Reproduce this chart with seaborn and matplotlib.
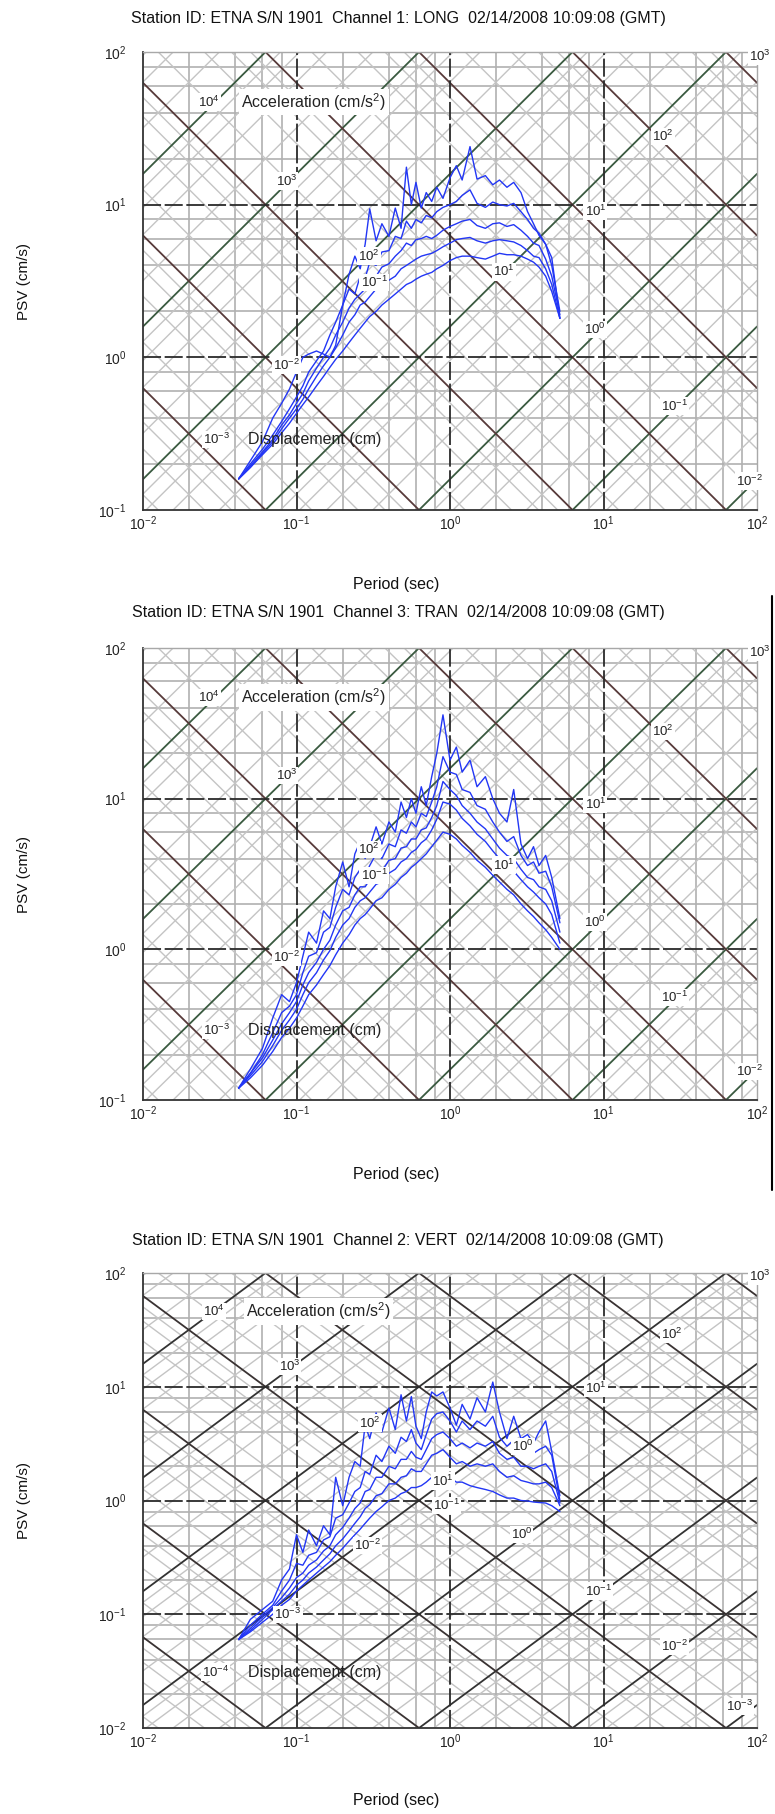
import numpy as np
import pandas as pd
import matplotlib
matplotlib.use("Agg")
import matplotlib.pyplot as plt
from matplotlib.lines import Line2D
import seaborn as sns

# ---------------- data ----------------
period = [0.042, 0.05, 0.06, 0.07, 0.08, 0.09, 0.10, 0.11, 0.12, 0.135, 0.15, 0.165, 0.18,
          0.2, 0.22, 0.24, 0.26, 0.28, 0.3, 0.33, 0.36, 0.4, 0.44, 0.48, 0.52, 0.56, 0.6,
          0.65, 0.7, 0.76, 0.82, 0.9, 1.0, 1.1, 1.2, 1.35, 1.5, 1.7, 1.9, 2.1, 2.35, 2.6,
          2.9, 3.2, 3.5, 3.8, 4.2, 4.6, 5.2]

long_c1 = [0.16, 0.21, 0.28, 0.40, 0.50, 0.62, 0.80, 1.0, 1.05, 1.1, 1.05, 1.0, 1.2, 2.2, 3.5, 4.6, 3.8, 5.5, 9.4,
           5.8, 7.5, 6.2, 9.5, 7.0, 17.6, 10.0, 14.0, 9.5, 12.0, 10.5, 13.0, 11.0, 15.0, 18.0, 14.5, 24.0,
           14.7, 15.5, 13.5, 14.5, 13.0, 14.0, 12.0, 9.0, 7.5, 6.3, 5.5, 4.5, 1.8]
long_c2 = [0.16, 0.2, 0.25, 0.31, 0.38, 0.46, 0.55, 0.65, 0.8, 0.95, 1.1, 1.4, 1.7, 2.2, 2.8, 2.6, 3.4, 3.3, 4.2,
           4.0, 4.9, 5.0, 6.2, 6.0, 7.8, 7.0, 8.0, 7.6, 8.5, 8.2, 9.0, 9.6, 10.0, 10.5, 11.5, 12.5, 10.2, 9.6,
           10.4, 10.0, 9.8, 10.2, 9.0, 8.0, 7.0, 6.5, 5.5, 4.0, 2.0]
long_c3 = [0.16, 0.195, 0.24, 0.29, 0.36, 0.42, 0.50, 0.58, 0.70, 0.85, 1.0, 1.15, 1.4, 1.7, 2.1, 2.4, 2.6, 2.8,
           3.2, 3.4, 3.9, 4.1, 4.6, 5.0, 5.6, 5.4, 5.9, 6.0, 6.2, 6.0, 6.3, 6.8, 7.2, 7.5, 7.8, 8.0, 7.3, 7.0,
           7.5, 7.6, 7.2, 7.4, 6.8, 6.2, 5.6, 5.4, 4.4, 3.4, 1.9]
long_c4 = [0.16, 0.19, 0.235, 0.28, 0.34, 0.40, 0.46, 0.53, 0.62, 0.75, 0.88, 1.0, 1.15, 1.4, 1.7, 1.9, 2.2, 2.3,
           2.5, 2.8, 2.9, 3.2, 3.4, 3.8, 4.0, 4.2, 4.4, 4.6, 4.7, 4.8, 5.0, 5.3, 5.6, 5.9, 6.0, 6.1, 5.8, 5.6,
           5.8, 5.9, 5.8, 5.7, 5.4, 5.0, 4.6, 4.5, 3.8, 3.0, 1.8]
long_c5 = [0.16, 0.19, 0.23, 0.27, 0.32, 0.37, 0.43, 0.49, 0.55, 0.65, 0.75, 0.86, 0.97, 1.1, 1.25, 1.4, 1.55,
           1.7, 1.85, 2.0, 2.2, 2.4, 2.6, 2.8, 3.0, 3.1, 3.25, 3.4, 3.5, 3.6, 3.8, 4.0, 4.3, 4.5, 4.6, 4.6, 4.5,
           4.4, 4.6, 4.8, 4.7, 4.7, 4.6, 4.4, 4.2, 3.9, 3.4, 2.7, 1.8]

tran_c1 = [0.12, 0.16, 0.22, 0.35, 0.5, 0.45, 0.6, 0.9, 1.3, 1.1, 1.8, 1.6, 2.6, 3.8, 2.6, 4.3, 5.2, 4.0, 4.8,
           6.5, 5.0, 7.0, 6.0, 9.5, 7.5, 10.0, 8.0, 12.0, 9.0, 14.0, 20.0, 36.0, 18.0, 22.0, 15.0, 18.0, 12.0,
           14.0, 10.0, 8.0, 7.0, 11.5, 5.0, 4.0, 4.8, 3.6, 4.2, 3.0, 1.6]
tran_c2 = [0.12, 0.15, 0.2, 0.28, 0.38, 0.42, 0.5, 0.7, 0.9, 0.95, 1.3, 1.4, 1.9, 2.5, 2.3, 3.0, 3.4, 3.1, 3.6,
           4.3, 4.0, 5.0, 4.8, 6.2, 5.9, 7.0, 6.5, 8.0, 7.6, 9.5, 12.0, 19.0, 15.0, 14.5, 11.5, 11.0, 9.0, 8.5,
           7.0, 6.0, 5.2, 5.6, 4.2, 3.6, 3.8, 3.2, 3.3, 2.6, 1.5]
tran_c3 = [0.12, 0.15, 0.19, 0.25, 0.32, 0.38, 0.45, 0.58, 0.7, 0.82, 1.0, 1.15, 1.45, 1.8, 1.9, 2.3, 2.6, 2.6,
           2.9, 3.3, 3.3, 3.9, 4.0, 4.7, 4.8, 5.4, 5.4, 6.2, 6.4, 7.5, 9.0, 13.0, 11.5, 10.5, 9.0, 8.0, 7.0,
           6.3, 5.4, 4.7, 4.2, 4.0, 3.4, 3.0, 2.9, 2.6, 2.5, 2.1, 1.3]
tran_c4 = [0.12, 0.145, 0.18, 0.23, 0.29, 0.34, 0.4, 0.5, 0.6, 0.7, 0.85, 0.98, 1.2, 1.45, 1.6, 1.9, 2.1, 2.2,
           2.4, 2.7, 2.8, 3.2, 3.4, 3.8, 4.0, 4.4, 4.6, 5.1, 5.4, 6.2, 7.3, 9.5, 9.2, 8.4, 7.4, 6.6, 5.8, 5.2,
           4.5, 4.0, 3.6, 3.3, 2.9, 2.6, 2.4, 2.2, 2.0, 1.7, 1.1]
tran_c5 = [0.12, 0.14, 0.17, 0.21, 0.26, 0.3, 0.35, 0.42, 0.5, 0.58, 0.68, 0.78, 0.92, 1.1, 1.25, 1.45, 1.6,
           1.7, 1.85, 2.1, 2.2, 2.5, 2.7, 3.0, 3.2, 3.5, 3.7, 4.0, 4.3, 4.8, 5.3, 6.0, 5.8, 5.4, 4.9, 4.4, 3.9,
           3.5, 3.1, 2.8, 2.5, 2.3, 2.0, 1.8, 1.65, 1.5, 1.35, 1.2, 1.0]

vert_c1 = [0.06, 0.09, 0.11, 0.13, 0.2, 0.25, 0.5, 0.35, 0.55, 0.4, 0.6, 0.5, 1.6, 0.9, 1.6, 2.2, 2.0, 4.6, 3.5,
           5.9, 4.0, 6.5, 4.2, 8.5, 5.0, 8.2, 4.5, 3.5, 6.0, 9.0, 8.3, 9.0, 6.5, 4.6, 7.0, 5.2, 8.0, 6.0, 11.0,
           6.0, 3.5, 5.5, 3.5, 3.8, 3.2, 4.0, 5.0, 2.7, 1.1]
vert_c2 = [0.06, 0.08, 0.1, 0.12, 0.16, 0.2, 0.28, 0.27, 0.33, 0.35, 0.45, 0.48, 0.7, 0.75, 0.95, 1.2, 1.3, 1.8,
           1.7, 2.5, 2.2, 3.0, 2.6, 3.6, 3.3, 4.2, 3.2, 2.8, 3.8, 5.2, 5.8, 6.0, 5.0, 4.0, 5.0, 4.2, 5.0, 4.5,
           5.5, 3.6, 3.0, 3.4, 2.7, 2.8, 2.6, 2.8, 3.0, 2.5, 1.0]
vert_c3 = [0.06, 0.075, 0.095, 0.115, 0.14, 0.17, 0.21, 0.23, 0.27, 0.3, 0.36, 0.4, 0.5, 0.58, 0.7, 0.85, 0.95,
           1.2, 1.25, 1.6, 1.6, 2.0, 1.9, 2.3, 2.3, 2.7, 2.4, 2.3, 2.8, 3.5, 3.8, 4.0, 3.5, 3.0, 3.2, 2.9, 3.2,
           3.0, 3.3, 2.6, 2.3, 2.4, 2.0, 2.0, 1.9, 2.0, 2.1, 1.8, 0.95]
vert_c4 = [0.06, 0.072, 0.09, 0.11, 0.13, 0.15, 0.18, 0.2, 0.23, 0.26, 0.3, 0.34, 0.4, 0.46, 0.54, 0.63, 0.72,
           0.85, 0.92, 1.1, 1.15, 1.4, 1.4, 1.6, 1.65, 1.9, 1.8, 1.8, 2.1, 2.5, 2.6, 2.8, 2.4, 2.1, 2.2, 2.0,
           2.1, 2.0, 2.1, 1.8, 1.6, 1.65, 1.5, 1.45, 1.4, 1.4, 1.45, 1.3, 0.9]
vert_c5 = [0.06, 0.07, 0.085, 0.1, 0.12, 0.135, 0.16, 0.18, 0.2, 0.23, 0.26, 0.29, 0.33, 0.38, 0.44, 0.5, 0.56,
           0.63, 0.7, 0.8, 0.88, 1.0, 1.05, 1.15, 1.2, 1.3, 1.3, 1.35, 1.45, 1.6, 1.65, 1.7, 1.6, 1.45, 1.45,
           1.35, 1.3, 1.25, 1.2, 1.12, 1.05, 1.05, 1.0, 0.99, 0.97, 0.96, 0.95, 0.9, 0.8]

titles = ["Station ID: ETNA S/N 1901  Channel 1: LONG  02/14/2008 10:09:08 (GMT)",
          "Station ID: ETNA S/N 1901  Channel 3: TRAN  02/14/2008 10:09:08 (GMT)",
          "Station ID: ETNA S/N 1901  Channel 2: VERT  02/14/2008 10:09:08 (GMT)"]
x_ticks = [1e-2, 1e-1, 1e0, 1e1, 1e2]
y_ticks_a = [1e-1, 1e0, 1e1, 1e2]
y_ticks_b = [1e-2, 1e-1, 1e0, 1e1, 1e2]

# label anchors (period, psv, exponent)
acc_lab_12 = [(0.027, 47, 4), (0.086, 14.3, 3), (0.297, 4.6, 2), (2.24, 3.63, 1), (8.85, 1.52, 0),
              (29, 0.48, -1), (90, 0.155, -2)]
dis_lab_12 = [(104, 93, 3), (24.5, 28, 2), (8.85, 9.1, 1), (0.32, 3.1, -1), (0.086, 0.89, -2), (0.030, 0.29, -3)]
acc_lab_3 = [(0.029, 46, 4), (0.09, 15, 3), (0.30, 4.8, 2), (0.9, 1.48, 1), (2.92, 0.5, 0), (9.3, 0.16, -1),
             (29, 0.052, -2), (77, 0.0154, -3)]
dis_lab_3 = [(104, 93, 3), (27.9, 29, 2), (8.9, 9.6, 1), (3.0, 3.0, 0), (0.95, 0.91, -1), (0.29, 0.4, -2),
             (0.088, 0.1, -3), (0.0297, 0.031, -4)]

# ---------------- style ----------------
sns.set_theme(style="white")
plt.rcParams['font.family'] = ['Liberation Sans', 'DejaVu Sans']
plt.rcParams['mathtext.fontset'] = 'custom'
plt.rcParams['mathtext.rm'] = 'Liberation Sans'
plt.rcParams['mathtext.it'] = 'Liberation Sans:italic'
plt.rcParams['mathtext.bf'] = 'Liberation Sans:bold'

W, H = 775, 1814
fig = plt.figure(figsize=(W / 100, H / 100), dpi=100)

BLUE = '#2236f5'
TWO_PI = 2 * np.pi


def sup(e):
    return r'$\mathregular{10^{%d}}$' % e


def draw_paper(ax, xlim, ylim, acc_col, dis_col):
    xmin, xmax = xlim
    ymin, ymax = ylim
    ex = range(int(np.floor(np.log10(xmin))), int(np.ceil(np.log10(xmax))))
    ey = range(int(np.floor(np.log10(ymin))), int(np.ceil(np.log10(ymax))))
    for e in ex:
        for m in (2, 4, 6, 8):
            ax.axvline(m * 10.0 ** e, color='#b0b0b0', lw=1.2, zorder=1)
    for e in ey:
        for m in (2, 4, 6, 8):
            ax.axhline(m * 10.0 ** e, color='#b0b0b0', lw=1.2, zorder=1)
    tt = np.array([xmin, xmax])
    a_lo = int(np.floor(np.log10(TWO_PI * ymin / xmax))) - 1
    a_hi = int(np.ceil(np.log10(TWO_PI * ymax / xmin))) + 1
    d_lo = int(np.floor(np.log10(ymin * xmin / TWO_PI))) - 1
    d_hi = int(np.ceil(np.log10(ymax * xmax / TWO_PI))) + 1
    for e in range(a_lo, a_hi):
        for m in (2, 4, 6, 8):
            ax.plot(tt, m * 10.0 ** e * tt / TWO_PI, color='#c4c4c4', lw=1.0, zorder=1)
    for e in range(d_lo, d_hi):
        for m in (2, 4, 6, 8):
            ax.plot(tt, TWO_PI * m * 10.0 ** e / tt, color='#c4c4c4', lw=1.0, zorder=1)
    for e in range(a_lo, a_hi):
        ax.plot(tt, 10.0 ** e * tt / TWO_PI, color=acc_col, lw=1.3, zorder=2)
    for e in range(d_lo, d_hi):
        ax.plot(tt, TWO_PI * 10.0 ** e / tt, color=dis_col, lw=1.3, zorder=2)
    for e in ex:
        if e > np.log10(xmin):
            ax.axvline(10.0 ** e, color='#2a2a2a', lw=1.3, ls=(0, (10, 2)), zorder=2)
    for e in ey:
        if e > np.log10(ymin):
            ax.axhline(10.0 ** e, color='#2a2a2a', lw=1.3, ls=(0, (10, 2)), zorder=2)
    ax.set_xlim(xmin, xmax)
    ax.set_ylim(ymin, ymax)


def lab(ax, t, v, s, **kw):
    ax.text(t, v, s, fontsize=9.5, color='#222222', ha='center', va='center', zorder=4, clip_on=False,
            bbox=dict(boxstyle='square,pad=0.08', fc='white', ec='none'), **kw)


panels = [
    dict(top=52, bot=510, ylim=(0.1, 100), yt=y_ticks_a, curves=[long_c1, long_c2, long_c3, long_c4, long_c5],
         acc=acc_lab_12, dis=dis_lab_12, title_y=18, per_y=585, cols=('#3a5a40', '#573a3a')),
    dict(top=648, bot=1100, ylim=(0.1, 100), yt=y_ticks_a, curves=[tran_c1, tran_c2, tran_c3, tran_c4, tran_c5],
         acc=acc_lab_12, dis=dis_lab_12, title_y=613, per_y=1175, cols=('#3a5a40', '#573a3a')),
    dict(top=1273, bot=1728, ylim=(0.01, 100), yt=y_ticks_b, curves=[vert_c1, vert_c2, vert_c3, vert_c4, vert_c5],
         acc=acc_lab_3, dis=dis_lab_3, title_y=1240, per_y=1800, cols=('#333333', '#3a3333')),
]

L, R = 143, 757
for i, p in enumerate(panels):
    ax = fig.add_axes([L / W, 1 - p['bot'] / H, (R - L) / W, (p['bot'] - p['top']) / H])
    ax.set_xscale('log')
    ax.set_yscale('log')
    draw_paper(ax, (0.01, 100), p['ylim'], *p['cols'])

    rows = []
    for k, vals in enumerate(p['curves']):
        for t, v in zip(period, vals):
            rows.append((t, v, k))
    df = pd.DataFrame(rows, columns=['period', 'psv', 'curve'])
    sns.lineplot(data=df, x='period', y='psv', units='curve', estimator=None, sort=False,
                 color=BLUE, lw=1.0, ax=ax, legend=False, zorder=3)
    ax.set_xlim(0.01, 100)
    ax.set_ylim(*p['ylim'])
    ax.set_xlabel('')
    ax.set_ylabel('')

    ax.set_xticks(x_ticks)
    ax.set_xticklabels([sup(int(round(np.log10(t)))) for t in x_ticks])
    ax.set_yticks(p['yt'])
    ax.set_yticklabels([sup(int(round(np.log10(t)))) for t in p['yt']])
    ax.minorticks_off()
    ax.tick_params(axis='x', length=0, labelsize=10, pad=3, colors='#222222')
    ax.tick_params(axis='y', length=0, labelsize=10, pad=12, colors='#222222')
    ax.grid(False)
    for sname in ('left', 'bottom'):
        ax.spines[sname].set_color('#333333')
        ax.spines[sname].set_linewidth(1.3)
    for sname in ('top', 'right'):
        ax.spines[sname].set_color('#a8a8a8')
        ax.spines[sname].set_linewidth(1.0)
    ax.set_facecolor('white')

    for t, v, e in p['acc']:
        lab(ax, t, v, sup(e))
    for t, v, e in p['dis']:
        lab(ax, t, v, sup(e))
    t0, v0, _ = p['acc'][0]
    ax.text(t0 * 1.62, v0, r'Acceleration (cm/s$\mathregular{^2}$)', fontsize=11.5, color='#222222',
            ha='left', va='center', zorder=4,
            bbox=dict(boxstyle='square,pad=0.15', fc='white', ec='none'))
    t1, v1, _ = p['dis'][-1]
    ax.text(t1 * 1.62, v1, 'Displacement (cm)', fontsize=11.5, color='#222222',
            ha='left', va='center', zorder=4,
            bbox=dict(boxstyle='square,pad=0.15', fc='none', ec='none'))

    fig.text(398 / W, 1 - p['title_y'] / H, titles[i], fontsize=11.5, ha='center', va='center', color='#111111')
    fig.text(396 / W, 1 - p['per_y'] / H, 'Period (sec)', fontsize=11.5, ha='center', va='center', color='#111111')
    fig.text(24 / W, 1 - (p['top'] + p['bot']) / 2 / H, 'PSV (cm/s)', fontsize=11, rotation=90,
             ha='center', va='center', color='#111111')

fig.add_artist(Line2D([772 / W, 772 / W], [1 - 596 / H, 1 - 1190 / H], color='black', lw=1.5))

fig.savefig('out.png', dpi=100, facecolor='white')
